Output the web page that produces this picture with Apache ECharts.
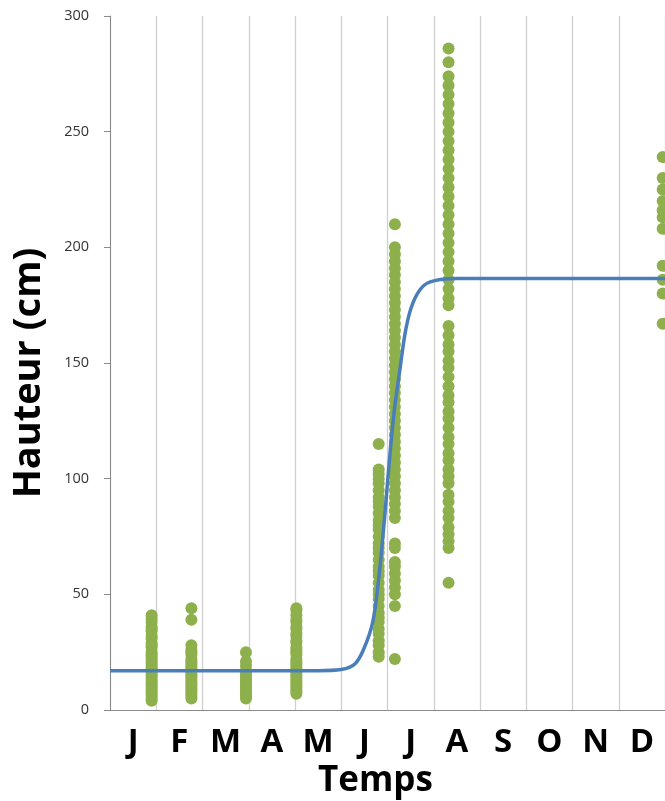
<!DOCTYPE html>
<html>
<head>
<meta charset="utf-8">
<script src="https://cdn.jsdelivr.net/npm/echarts@6/dist/echarts.min.js"></script>
<style>html,body{margin:0;padding:0;background:#fff;}#c{width:665px;height:801px;}</style>
</head>
<body>
<div id="c"></div>
<script>
// Month tick labels
const months = ['J','F','M','A','M','J','J','A','S','O','N','D'];

// Column x positions (in months from start of year)
const colX = [0.90, 1.76, 2.94, 4.03, 5.81, 6.16, 7.32, 11.95];

// Heights (cm) per sampling column
const janVals = [41, 39.5, 38, 36, 35, 34, 32, 31, 29, 28, 27, 25, 24, 23, 22, 21, 20, 19, 18, 17, 16, 15, 14, 13, 12, 11, 10, 9, 8, 7, 6, 5, 4];
const febVals = [44, 39, 28, 26, 25, 24, 22, 21, 20, 19, 18, 17, 16, 15, 14, 13, 12, 11, 10, 9, 8, 7, 6, 5];
const marVals = [25, 21, 19, 17, 16, 15, 14, 13, 12, 11, 10, 9, 8, 7, 6, 5];
const aprVals = [44, 43, 41, 39, 38, 36, 35, 33, 32, 30, 29, 27, 26, 25, 24, 22, 21, 20, 19, 18, 17, 16, 15, 14, 13, 12, 11, 10, 9, 8, 7];
const juneAVals = [115, 104, 102, 100, 98, 95, 92, 90, 88, 85, 82, 80, 78, 75, 72, 70, 68, 65, 62, 60, 58, 55, 52, 50, 48, 45, 42, 40, 38, 35, 33, 30, 28, 25, 23];
const juneBVals = [210, 200, 197, 194, 191, 188, 185, 182, 179, 176, 173, 170, 167, 164, 161, 158, 155, 152, 149, 146, 143, 140, 137, 134, 131, 128, 125, 122, 119, 116, 113, 110, 107, 104, 101, 98, 95, 92, 89, 86, 83, 72, 70, 64, 62, 59, 56, 53, 50, 45, 22];
const augVals = [286, 280, 274, 270, 266, 262, 258, 254, 250, 246, 242, 238, 234, 230, 226, 222, 218, 214, 210, 206, 202, 198, 194, 190, 186, 182, 178, 175, 166, 162, 158, 155, 151, 148, 144, 140, 136, 133, 129, 126, 122, 118, 115, 111, 108, 104, 101, 98, 93, 90, 86, 83, 79, 76, 73, 70, 55];
const decVals = [239, 230, 225, 220, 216, 213, 208, 192, 186, 180, 167];

// Fitted growth curve: [month, height]
const curveX = [0, 4.5, 5.0, 5.3, 5.5, 5.68, 5.8, 5.9, 5.97, 6.05, 6.15, 6.26, 6.4, 6.55, 6.76, 7.0, 7.5, 12];
const curveY = [17, 17, 17.5, 20, 27, 38, 55, 75, 91, 110, 130, 146, 165, 176, 183, 185.5, 186.5, 186.5];

const yTicks = [0, 50, 100, 150, 200, 250, 300];

const columns = [janVals, febVals, marVals, aprVals, juneAVals, juneBVals, augVals, decVals];
const scatterData = [];
columns.forEach((vals, i) => vals.forEach(v => scatterData.push([colX[i], v])));
const curveData = curveX.map((x, i) => [x, curveY[i]]);

const chart = echarts.init(document.getElementById('c'));
chart.setOption({
  animation: false,
  backgroundColor: '#ffffff',
  grid: { left: 110, right: 0, top: 16, bottom: 91, containLabel: false },
  xAxis: [
    {
      type: 'value', min: 0, max: 12, interval: 1, position: 'bottom',
      axisLine: { show: true, lineStyle: { color: '#8a8a8a', width: 1 } },
      axisTick: { show: false },
      axisLabel: { show: false },
      splitLine: { show: true, lineStyle: { color: '#d0d0d0', width: 1.3 } }
    },
    {
      type: 'category', data: months, position: 'bottom', boundaryGap: true,
      axisLine: { show: false }, axisTick: { show: false }, splitLine: { show: false },
      axisLabel: { color: '#000', fontFamily: 'Open Sans', fontWeight: 'bold', fontSize: 33, margin: 16, interval: 0 }
    }
  ],
  yAxis: {
    type: 'value', min: 0, max: 300, interval: 50,
    name: 'Hauteur (cm)', nameLocation: 'middle', nameRotate: 90, nameGap: 62,
    nameTextStyle: { color: '#000', fontFamily: 'Open Sans', fontWeight: 'bold', fontSize: 38, padding: [0, 20, 0, 0] },
    axisLine: { show: true, lineStyle: { color: '#8a8a8a', width: 1 } },
    axisTick: { show: true, length: 6, lineStyle: { color: '#8a8a8a' } },
    axisLabel: {
      color: '#333333', fontFamily: 'Open Sans', fontSize: 14.5, margin: 21,
      formatter: v => (yTicks.indexOf(v) >= 0 ? String(v) : '')
    },
    splitLine: { show: false }
  },
  graphic: [{
    type: 'text', left: 318, top: 764,
    style: { text: 'Temps', fill: '#000', font: 'bold 35px "Open Sans"' }
  }],
  series: [
    {
      type: 'scatter', xAxisIndex: 0, data: scatterData,
      symbol: 'circle', symbolSize: 12,
      itemStyle: { color: '#8db04c', opacity: 1 },
      z: 2
    },
    {
      type: 'line', xAxisIndex: 0, data: curveData, smooth: 0.35,
      showSymbol: false, symbol: 'none',
      lineStyle: { color: '#4a7ebb', width: 3.5 },
      z: 3
    }
  ]
});
</script>
</body>
</html>
